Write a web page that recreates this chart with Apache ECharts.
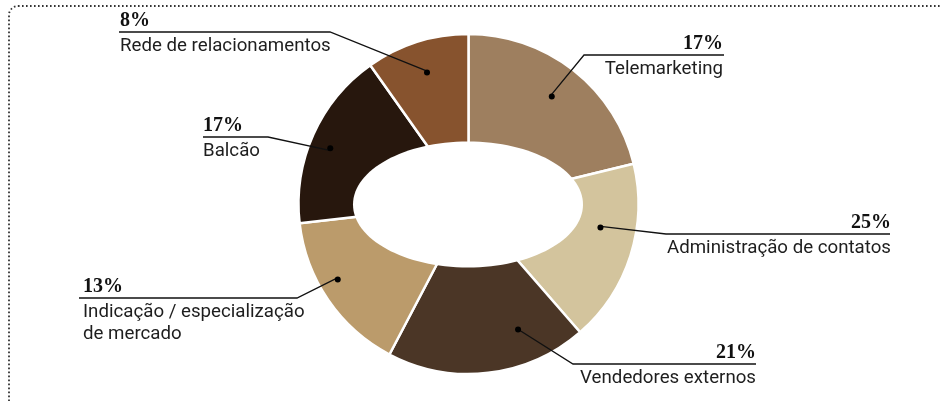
<!DOCTYPE html>
<html>
<head>
<meta charset="utf-8">
<script src="https://cdn.jsdelivr.net/npm/echarts@6/dist/echarts.min.js"></script>
<style>
  html, body { margin: 0; padding: 0; background: #fff; }
  #main { width: 941px; height: 401px; }
</style>
</head>
<body>
<div id="main"></div>
<script>
// fatias na ordem do grafico (sentido horario a partir do topo)
const categories = ['Telemarketing', 'Administração de contatos', 'Vendedores externos',
  'Indicação / especialização\nde mercado', 'Balcão', 'Rede de relacionamentos'];
// tamanho das fatias como aparecem no desenho
const shares = [21.2, 17.4, 19.1, 15.5, 17.0, 9.8];
// percentuais impressos nos rotulos
const printedPct = ['17%', '25%', '21%', '13%', '17%', '8%'];
const colors = ['#9e7f5f', '#d3c49d', '#4b3626', '#bb9b6b', '#27170d', '#87532e'];

// onde cada rotulo fica (linha horizontal + texto) e ajuste do ponto (graus, raio)
const spots = [
  { side: 'right', y: 55, bend: 584, end: 724, tx: 723, da: -1, r: 136 },
  { side: 'right', y: 234, bend: 666, end: 890, tx: 891, da: -8, r: 134 },
  { side: 'right', y: 364, bend: 573, end: 756, tx: 756, da: -15, r: 135 },
  { side: 'left', y: 298, bend: 297, end: 79, tx: 83, da: 5, r: 151 },
  { side: 'left', y: 137, bend: 268, end: 203, tx: 203, da: -3, r: 149 },
  { side: 'left', y: 32, bend: 330, end: 119, tx: 120, da: 1, r: 138 }
];

const center = [468.5, 204];
const dotR = 137;

// move um ponto da fatia (angulo medio) conforme o ajuste
function shiftPoint(px, py, s) {
  const ang = Math.atan2(px - center[0], center[1] - py) + s.da * Math.PI / 180;
  return [center[0] + s.r * Math.sin(ang), center[1] - s.r * Math.cos(ang)];
}

const pieData = categories.map((c, i) => ({
  name: c,
  value: shares[i],
  itemStyle: { color: colors[i] }
}));
const ghostData = categories.map((c, i) => ({ name: c, value: shares[i] }));

const chart = echarts.init(document.getElementById('main'));
chart.setOption({
  animation: false,
  graphic: [
    {
      type: 'rect', z: 1, silent: true,
      shape: { x: 9, y: 6, width: 1200, height: 700, r: 9 },
      style: { fill: null, stroke: '#333', lineWidth: 1.8, lineDash: [1.6, 2.4] }
    },
    {
      type: 'ellipse', z: 10, silent: true,
      shape: { cx: 468, cy: 204.5, rx: 115, ry: 63 },
      style: { fill: '#fff' }
    }
  ],
  series: [
    {
      type: 'pie',
      z: 2,
      center: center,
      radius: [0, 170],
      startAngle: 90,
      silent: true,
      label: { show: false },
      labelLine: { show: false },
      itemStyle: { borderColor: '#fff', borderWidth: 2.5 },
      data: pieData
    },
    {
      // pontos dentro das fatias
      type: 'pie',
      z: 20,
      center: center,
      radius: [dotR - 8, dotR + 8],
      startAngle: 90,
      silent: true,
      itemStyle: { color: 'rgba(0,0,0,0)' },
      label: {
        show: true,
        position: 'inside',
        formatter: '{d| }',
        rich: { d: { width: 6, height: 6, borderRadius: 3, backgroundColor: '#000' } }
      },
      labelLine: { show: false },
      labelLayout: function (params) {
        const r = params.rect;
        const p = shiftPoint(r.x + r.width / 2, r.y + r.height / 2, spots[params.dataIndex]);
        return { x: p[0], y: p[1], align: 'center', verticalAlign: 'middle' };
      },
      data: ghostData
    },
    {
      // rotulos com linhas guia
      type: 'pie',
      z: 20,
      center: center,
      radius: [0, dotR],
      startAngle: 90,
      silent: true,
      avoidLabelOverlap: false,
      itemStyle: { color: 'rgba(0,0,0,0)' },
      label: {
        show: true,
        position: 'outside',
        formatter: function (p) {
          const lines = categories[p.dataIndex].split('\n').map(t => '{n|' + t + '}');
          return '{p|' + printedPct[p.dataIndex] + '}\n' + lines.join('\n');
        },
        rich: {
          p: { fontFamily: 'Liberation Serif', fontWeight: 'bold', fontSize: 20, lineHeight: 27.5, color: '#111' },
          n: { fontFamily: 'Roboto', fontSize: 18.7, lineHeight: 22.5, color: '#1e1e1e' }
        }
      },
      labelLine: { show: true, lineStyle: { color: '#111', width: 1.3 } },
      labelLayout: function (params) {
        const s = spots[params.dataIndex];
        const a0 = params.labelLinePoints[0];
        const a = shiftPoint(a0[0], a0[1], s);
        return {
          x: s.tx,
          y: s.y - 24.5,
          align: s.side,
          verticalAlign: 'top',
          labelLinePoints: [a, [s.bend, s.y], [s.end, s.y]]
        };
      },
      data: ghostData
    }
  ]
});
</script>
</body>
</html>
